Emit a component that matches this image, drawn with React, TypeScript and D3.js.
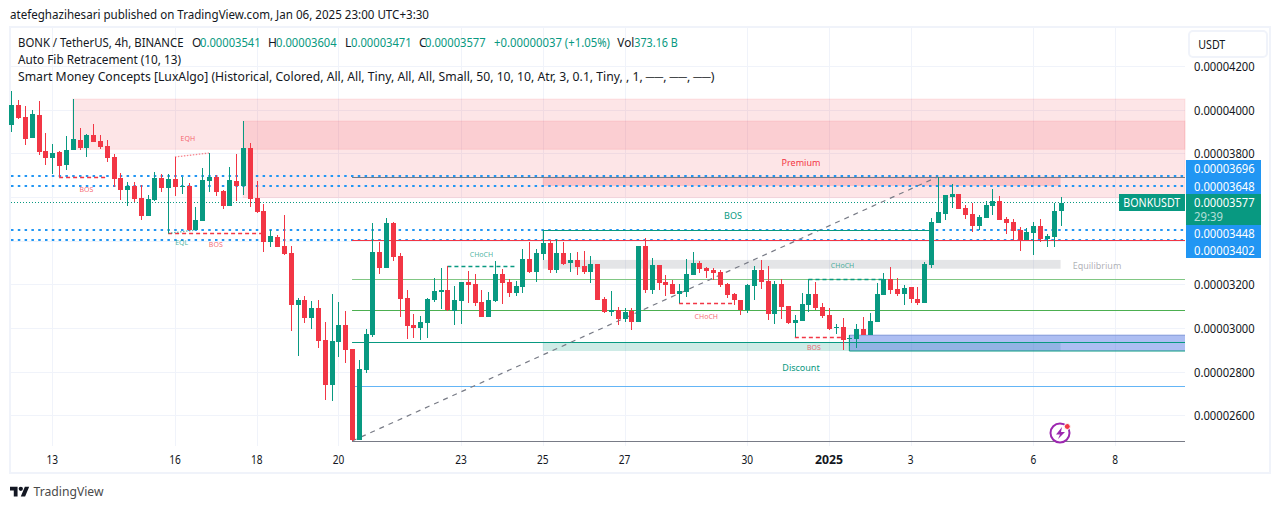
import React from "react";
import * as d3 from "d3";

const opens = [3933,4023,3968,3873,3978,3813,3782,3809,3750,3818,3864,3827,3886,3859,3836,3786,3690,3636,3654,3599,3517,3590,3690,3645,3686,3652,3654,3453,3494,3677,3695,3631,3563,3677,3654,3827,3599,3540,3399,3422,3380,3348,3112,3134,3052,3098,2952,2747,2943,3020,2911,2496,2815,2975,3353,3280,3485,3335,3143,3020,3007,3029,3134,3171,3180,3084,3130,3216,3207,3125,3057,3130,3253,3216,3166,3194,3321,3262,3344,3394,3271,3349,3303,3317,3289,3262,3298,3139,3080,3089,3048,3084,3034,3381,3180,3294,3216,3207,3162,3171,3248,3303,3280,3271,3262,3207,3162,3134,3089,3198,3271,3221,3071,3207,3107,3030,3039,3112,3162,3103,3066,3009,3011,2956,2956,3002,2975,3034,3157,3230,3184,3161,3193,3139,3120,3294,3485,3526,3603,3617,3553,3526,3471,3508,3562,3585,3503,3489,3453,3407,3439,3471,3412,3421,3541];
const highs = [4087,4046,4019,4000,4041,3895,3845,3813,3882,4050,3918,3891,3936,3886,3864,3800,3713,3672,3672,3659,3613,3718,3709,3709,3786,3695,3668,3558,3736,3804,3704,3636,3741,3800,3950,3850,3677,3572,3453,3431,3522,3380,3143,3153,3130,3134,3034,3162,3125,3084,2911,2861,3002,3485,3399,3508,3490,3348,3180,3070,3061,3143,3235,3280,3289,3198,3216,3266,3253,3180,3171,3312,3276,3230,3221,3367,3399,3367,3453,3408,3412,3399,3349,3353,3358,3335,3298,3148,3175,3103,3098,3098,3381,3417,3326,3294,3248,3226,3207,3321,3353,3312,3285,3280,3271,3212,3166,3134,3208,3289,3317,3289,3221,3230,3107,3066,3166,3230,3216,3121,3098,3025,3052,2975,3025,3057,3075,3211,3257,3284,3234,3202,3193,3193,3307,3508,3695,3613,3663,3617,3567,3576,3521,3585,3640,3608,3512,3503,3467,3462,3489,3503,3435,3576,3604];
const lows = [3900,3958,3841,3873,3795,3750,3709,3695,3727,3818,3818,3786,3854,3823,3763,3649,3590,3563,3581,3499,3517,3586,3627,3438,3608,3618,3449,3453,3494,3627,3608,3549,3563,3586,3613,3558,3531,3353,3376,3376,3339,2993,2879,3029,3002,2916,2679,2674,2875,2847,2492,2496,2802,2966,3253,3280,3312,3057,2957,2961,2952,2961,3125,3093,3084,3020,3025,3121,3107,3057,3057,3125,3116,3148,3153,3166,3257,3216,3317,3257,3257,3294,3262,3248,3253,3212,3134,3075,3061,3021,3034,2998,3034,3166,3162,3180,3153,3162,3119,3148,3248,3257,3235,3226,3194,3144,3112,3066,3075,3134,3185,3043,3025,3048,3025,2967,3039,3080,3089,3052,2998,2980,2907,2924,2915,2975,2975,3034,3157,3161,3152,3111,3120,3111,3120,3280,3485,3499,3553,3549,3503,3444,3453,3508,3521,3499,3435,3407,3357,3407,3339,3398,3376,3376,3471];
const closes = [4023,3965,3868,3982,3809,3782,3804,3745,3818,3868,3827,3886,3854,3832,3782,3686,3636,3654,3595,3517,3595,3690,3645,3686,3649,3654,3453,3499,3681,3695,3627,3563,3681,3654,3827,3595,3535,3399,3426,3376,3344,3112,3134,3052,3098,2947,2747,2947,3020,2906,2496,2820,2979,3353,3280,3485,3330,3139,3016,3007,3034,3139,3175,3180,3089,3134,3216,3203,3121,3057,3134,3253,3212,3166,3198,3321,3262,3348,3394,3271,3348,3298,3317,3285,3262,3298,3134,3080,3089,3048,3080,3034,3381,3180,3294,3212,3203,3162,3175,3253,3303,3276,3267,3257,3203,3157,3134,3089,3203,3271,3216,3071,3207,3103,3030,3043,3116,3162,3098,3062,3002,3011,2952,2959,3002,2975,3038,3161,3230,3180,3161,3189,3139,3120,3298,3489,3535,3613,3617,3549,3521,3471,3512,3567,3585,3499,3485,3448,3403,3444,3471,3412,3426,3541,3577];

const priceTicks = [4200,4000,3800,3200,3000,2800,2600];
const gridPrices = [4200,4000,3800,3600,3400,3200,3000,2800,2600];
const dayLabels = ["13","16","18","20","23","25","27","30","2025","3","6","8"];
const dayBars = [6,24,36,48,66,78,90,108,120,132,150,162];
const pricePerUnit = 1e-8;
const alertLevels = [3696,3648,3448,3402];
const lastPrice = 3577;

const fibLevels = [3696,3406,3232,3091,2943,2743,2492];
const fibColors = ["#787b86","#f23645","#81c784","#4caf50","#089981","#64b5f6","#787b86"];

// zones: bar start, bar end (null = runs to the chart edge), top price, bottom price
const pinkZones = [[9,null,4050,3821],[34,null,3950,3601]];
const premiumZone = [78,154,3696,3654];
const equilibriumZone = [78,154,3317,3277];
const discountZone = [78,154,2943,2902];
const demandBlock = [123,null,2974,2902];

const structureLines = [
  { a: 7, b: 14, p: 3693, kind: "bear" },
  { a: 23, b: 37, p: 3438, kind: "bear" },
  { a: 64, b: 74, p: 3289, kind: "bull" },
  { a: 98, b: 106, p: 3119, kind: "bear" },
  { a: 117, b: 128, p: 3230, kind: "bull" },
  { a: 115, b: 122, p: 2967, kind: "bear" },
];
const structureLabels = [
  { t: "BOS", b: 11, p: 3640, c: "#f23645" },
  { t: "BOS", b: 30, p: 3388, c: "#f23645" },
  { t: "EQH", b: 25.9, p: 3872, c: "#f23645" },
  { t: "EQL", b: 25, p: 3398, c: "#089981" },
  { t: "CHoCH", b: 69, p: 3342, c: "#089981" },
  { t: "CHoCH", b: 102, p: 3060, c: "#f23645" },
  { t: "CHoCH", b: 122, p: 3290, c: "#089981" },
  { t: "BOS", b: 117.8, p: 2917, c: "#f23645" },
];

const titleText = "atefeghazihesari published on TradingView.com, Jan 06, 2025 23:00 UTC+3:30";
const symbolText = "BONK / TetherUS, 4h, BINANCE";
const fibText = "Auto Fib Retracement (10, 13)";
const legendText = "Smart Money Concepts [LuxAlgo] (Historical, Colored, All, All, Tiny, All, All, Small, 50, 10, 10, Atr, 3, 0.1, Tiny, , 1, ──, ──, ──)";

const UP = "#089981";
const DOWN = "#f23645";
const BLUE = "#2196f3";
const FONT = "'Noto Sans', sans-serif";
const INK = "#131722";
const PLOT_RIGHT = 1185;
const PLOT_LEFT = 11;
const PLOT_BOTTOM = 446;
const PLOT_TOP = 28;
const VALUE_W = 60.7;

const x = d3.scaleLinear().domain([6, 150]).range([52.3, 1033.3]);
const y = d3.scaleLinear().domain([4000, 2600]).range([110, 417.3]);
// grid, axis labels and alert rows sit on the price axis' own calibration
const gridY = d3.scaleLinear().domain([4000, 2600]).range([110, 415.9]);
const fmt = (p: number) => (p * pricePerUnit).toFixed(8);
const right = (b: number | null) => (b === null ? PLOT_RIGHT : x(b));

function T({ x: tx, y: ty, w, children, size = 12, fill = INK, anchor, weight, opacity }: any) {
  return (
    <text
      x={tx}
      y={ty}
      dominantBaseline="central"
      fontSize={size}
      fill={fill}
      textAnchor={anchor}
      fontWeight={weight}
      fillOpacity={opacity}
      textLength={w}
      lengthAdjust={w ? "spacingAndGlyphs" : undefined}
    >
      {children}
    </text>
  );
}

function Zone({ z, fill, stroke }: { z: (number | null)[]; fill: string; stroke?: string }) {
  const [a, b, t, w] = z as [number, number | null, number, number];
  return (
    <rect x={x(a)} y={y(t)} width={right(b) - x(a)} height={y(w) - y(t)} fill={fill} stroke={stroke ?? "none"} />
  );
}

export default function App() {
  return (
    <svg
      width={1281}
      height={509}
      style={{ position: "absolute", left: 0, top: 0, display: "block", background: "#fff", fontFamily: FONT }}
    >
      <T x={10} y={14.5} w={419}>{titleText}</T>
      <rect x={10} y={27} width={1260} height={446} fill="#fff" stroke="#f0f3fa" strokeWidth={2} />

      {gridPrices.map((p) => (
        <line key={p} x1={PLOT_LEFT} x2={PLOT_RIGHT} y1={Math.floor(gridY(p)) + 0.5} y2={Math.floor(gridY(p)) + 0.5} stroke="#f0f3fa" />
      ))}
      {dayBars.map((b) => (
        <line key={b} x1={Math.round(x(b)) + 0.5} x2={Math.round(x(b)) + 0.5} y1={PLOT_TOP} y2={PLOT_BOTTOM} stroke="#f0f3fa" />
      ))}

      {pinkZones.map((z, i) => (
        <Zone key={i} z={z} fill="rgba(242,54,69,0.13)" stroke="rgba(242,54,69,0.1)" />
      ))}
      <Zone z={premiumZone} fill="rgba(242,54,69,0.2)" />
      <Zone z={equilibriumZone} fill="rgba(120,123,134,0.2)" />
      <Zone z={discountZone} fill="rgba(8,153,129,0.2)" />
      <Zone z={demandBlock} fill="rgba(74,111,227,0.45)" />
      <line x1={x(123)} x2={PLOT_RIGHT} y1={y(2974)} y2={y(2974)} stroke="#7e96d8" />

      {alertLevels.map((p) => (
        <line key={p} x1={PLOT_LEFT} x2={PLOT_RIGHT} y1={Math.floor(gridY(p))} y2={Math.floor(gridY(p))} stroke={BLUE} strokeWidth={2} strokeDasharray="2.5 4.3" />
      ))}
      <line x1={PLOT_LEFT} x2={1119} y1={Math.round(y(lastPrice)) - 0.5} y2={Math.round(y(lastPrice)) - 0.5} stroke={UP} strokeDasharray="1 2" />

      {fibLevels.map((p, i) => (
        <line key={p} x1={x(50)} x2={PLOT_RIGHT} y1={Math.round(y(p)) + 0.5} y2={Math.round(y(p)) + 0.5} stroke={fibColors[i]} />
      ))}
      <line x1={x(50)} y1={y(2492)} x2={x(136)} y2={y(3696)} stroke="#787b86" strokeWidth={1.2} strokeDasharray="5 5" />

      <line x1={x(123)} x2={PLOT_RIGHT} y1={y(2902)} y2={y(2902)} stroke={UP} />
      <line x1={x(123)} x2={x(123)} y1={y(2974)} y2={y(2902)} stroke={UP} />

      <line x1={x(78)} x2={x(135)} y1={Math.round(y(3453)) + 0.5} y2={Math.round(y(3453)) + 0.5} stroke={UP} />
      <line x1={x(78) + 0.5} x2={x(78) + 0.5} y1={y(3453)} y2={y(3406)} stroke={UP} />

      {structureLines.map((s, i) => (
        <line key={i} x1={x(s.a)} x2={x(s.b)} y1={Math.round(y(s.p)) + 0.5} y2={Math.round(y(s.p)) + 0.5} stroke={s.kind === "bull" ? UP : DOWN} strokeWidth={1.5} strokeDasharray="4 3" />
      ))}
      <line x1={x(24)} y1={y(3786)} x2={x(29)} y2={y(3804)} stroke={DOWN} strokeOpacity={0.6} strokeWidth={1.3} strokeDasharray="1.5 1.5" />
      <line x1={x(23)} y1={y(3438)} x2={x(27)} y2={y(3453)} stroke={UP} strokeOpacity={0.6} strokeWidth={1.3} strokeDasharray="1.5 1.5" />

      {closes.map((c, i) => {
        const o = opens[i];
        const col = c >= o ? UP : DOWN;
        const cx = Math.round(x(i));
        const top = Math.round(y(Math.max(o, c)));
        const bot = Math.round(y(Math.min(o, c)));
        return (
          <g key={i} fill={col}>
            <rect x={cx} y={Math.round(y(highs[i]))} width={1} height={Math.max(1, Math.round(y(lows[i])) - Math.round(y(highs[i])))} />
            <rect x={cx - 2} y={top} width={5} height={Math.max(1, bot - top)} />
          </g>
        );
      })}

      {structureLabels.map((l, i) => (
        <T key={i} x={x(l.b)} y={y(l.p)} anchor="middle" size={7} fill={l.c} opacity={0.75}>{l.t}</T>
      ))}
      <T x={733} y={215} anchor="middle" size={9} fill={UP}>BOS</T>
      <T x={801} y={162} anchor="middle" size={9} fill={DOWN}>Premium</T>
      <T x={801} y={367} anchor="middle" size={9} fill={UP}>Discount</T>
      <T x={1097} y={265} anchor="middle" size={9} fill="#787b86" opacity={0.6}>Equilibrium</T>

      <g>
        <circle cx={1060} cy={433} r={9.5} fill="#fff" stroke="#9c27b0" strokeWidth={2} />
        <path d="M1062 427 L1056 434.5 L1060 434.5 L1058 439 L1065 432 L1061 432 Z" fill="#9c27b0" />
        <circle cx={1067.3} cy={426.5} r={3} fill={DOWN} stroke="#fff" />
      </g>

      <rect x={1119} y={194} width={66} height={17} fill={UP} />
      <T x={1123.3} y={202.5} w={57} fill="#fff">BONKUSDT</T>

      {priceTicks.map((p) => (
        <T key={p} x={1194} y={gridY(p)} w={VALUE_W}>{fmt(p)}</T>
      ))}
      <rect x={1186} y={160} width={75} height={34} fill={BLUE} />
      <rect x={1186} y={194} width={75} height={31} fill={UP} />
      <rect x={1186} y={225} width={75} height={33} fill={BLUE} />
      <T x={1194} y={168.5} w={VALUE_W} fill="#fff">{fmt(alertLevels[0])}</T>
      <T x={1194} y={186} w={VALUE_W} fill="#fff">{fmt(alertLevels[1])}</T>
      <T x={1194} y={202} w={VALUE_W} fill="#fff">{fmt(lastPrice)}</T>
      <T x={1194} y={216.5} w={29} fill="#fff" opacity={0.7}>29:39</T>
      <T x={1194} y={233.5} w={VALUE_W} fill="#fff">{fmt(alertLevels[2])}</T>
      <T x={1194} y={250.5} w={VALUE_W} fill="#fff">{fmt(alertLevels[3])}</T>

      <rect x={1189} y={31} width={78} height={26} rx={4} fill="#fff" stroke="#f0f3fa" strokeWidth={2} />
      <T x={1198.3} y={44.5} w={27}>USDT</T>

      {dayLabels.map((t, i) => (
        <T key={t} x={x(dayBars[i])} y={459.5} anchor="middle" weight={t === "2025" ? 700 : 400} w={t === "2025" ? 28 : t.length * 5.8}>{t}</T>
      ))}

      <T x={18} y={42} w={165.5}>{symbolText}</T>
      <T x={192} y={42}>O</T><T x={200} y={42} w={VALUE_W} fill={UP}>{fmt(3541)}</T>
      <T x={268} y={42}>H</T><T x={276} y={42} w={VALUE_W} fill={UP}>{fmt(3604)}</T>
      <T x={345} y={42}>L</T><T x={351} y={42} w={VALUE_W} fill={UP}>{fmt(3471)}</T>
      <T x={419} y={42}>C</T><T x={425} y={42} w={VALUE_W} fill={UP}>{fmt(3577)}</T>
      <T x={494} y={42} w={116} fill={UP}>{`+${fmt(37)} (+1.05%)`}</T>
      <T x={617.3} y={42} w={17}>Vol</T><T x={634.3} y={42} w={43.5} fill={UP}>373.16 B</T>
      <T x={18} y={59} w={163}>{fibText}</T>
      <T x={18} y={76} w={696.3}>{legendText}</T>

      <g transform="translate(10,484.5) scale(0.54)" fill="#131722">
        <path d="M14 22H7V11H0V4h14v18zM28 22h-8l7.5-18h8L28 22z" />
        <circle cx={20} cy={8} r={4} />
      </g>
      <T x={33.5} y={491} w={70} size={13} fill="#4a4a4a">TradingView</T>
    </svg>
  );
}
